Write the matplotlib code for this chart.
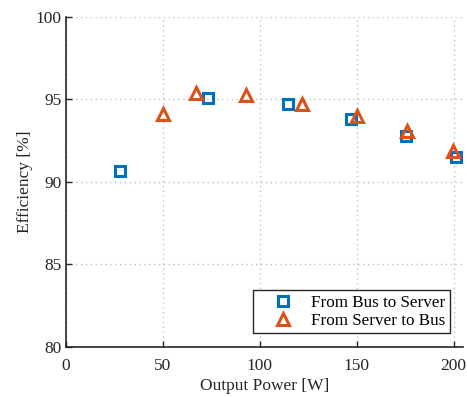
import matplotlib
matplotlib.use('Agg')
from matplotlib import pyplot as plt

# 效率测量数据
p_bus_to_server = [28, 73.5, 114.5, 147, 175.5, 201.5]
eff_bus_to_server = [90.65, 95.05, 94.7, 93.8, 92.75, 91.5]
p_server_to_bus = [50, 67, 93, 122, 150, 176, 199.5]
eff_server_to_bus = [94.1, 95.35, 95.25, 94.7, 93.95, 93.05, 91.85]
x_ticks = [0, 50, 100, 150, 200]
y_ticks = [80, 85, 90, 95, 100]

plt.rcParams['font.family'] = ['Liberation Serif', 'DejaVu Serif']
plt.rcParams['font.size'] = 12.5

fig = plt.figure(figsize=(4.67, 3.97), dpi=100)
ax = fig.add_axes([0.1413, 0.1259, 0.8507, 0.8325])

ax.plot(p_bus_to_server, eff_bus_to_server, 's', color='#0072BD', markersize=6.5,
        markeredgewidth=2.2, markerfacecolor='none', label='From Bus to Server')
ax.plot(p_server_to_bus, eff_server_to_bus, '^', color='#D95319', markersize=8.5,
        markeredgewidth=2.2, markerfacecolor='none', label='From Server to Bus')

ax.set_xlim(0, 205)
ax.set_ylim(80, 100)
ax.set_xticks(x_ticks)
ax.set_yticks(y_ticks)
ax.grid(True, linestyle=(0, (1, 2.5)), color='#c0c0c0', linewidth=1.0)
ax.spines['top'].set_visible(False)
ax.spines['right'].set_visible(False)
for s in ['left', 'bottom']:
    ax.spines[s].set_linewidth(1.2)
    ax.spines[s].set_color('#262626')
ax.tick_params(direction='in', length=4, width=1, colors='#262626',
               labelcolor='#262626', pad=3)
ax.tick_params(axis='x', pad=8)
ax.set_xlabel('Output Power [W]', fontsize=12.5, color='#262626', labelpad=3)
ax.set_ylabel('Efficiency [%]', fontsize=12.5, color='#262626', labelpad=2)

leg = ax.legend(loc='lower right', fontsize=12.3, frameon=True, fancybox=False,
                edgecolor='#262626', framealpha=1, borderpad=0.25, handlelength=3,
                handletextpad=0.15, borderaxespad=0.8, labelspacing=0.15)
leg.get_frame().set_linewidth(1.0)

fig.savefig('out.png', dpi=100)
